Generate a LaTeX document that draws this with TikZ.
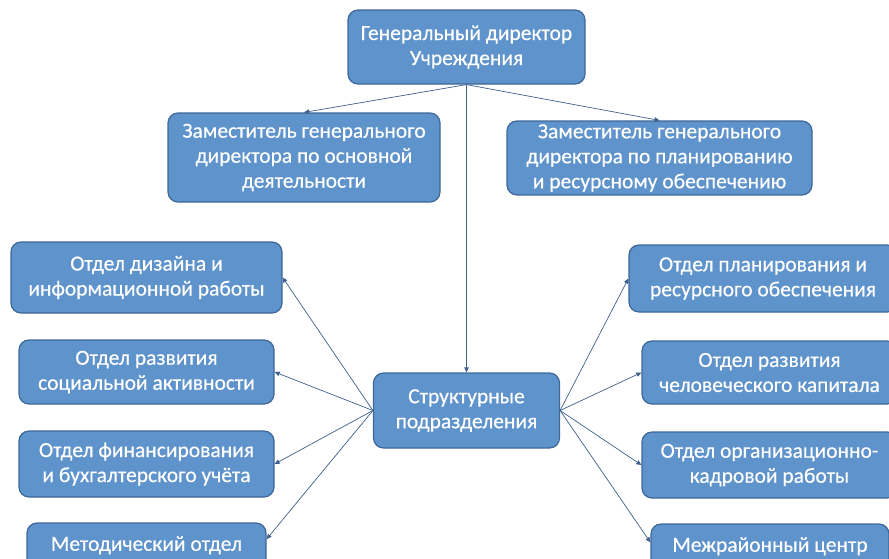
\documentclass[tikz,border=0pt]{standalone}
\usepackage{fontspec}
\setmainfont{Carlito}
\newfontfamily\unitfont{Carlito}[BoldFont=Carlito, BoldFeatures={FakeBold=0.4}]
\usetikzlibrary{arrows.meta}

\definecolor{boxfill}{HTML}{5F93CB}
\definecolor{boxline}{HTML}{3D6798}
\definecolor{linkline}{HTML}{3F5F8C}

\begin{document}
\begin{tikzpicture}[x=1pt, y=-1pt,
	unit/.style={shape=rectangle, rounded corners=10pt, draw=boxline, line width=1.2pt,
		fill=boxfill, text=white, align=center, inner sep=0pt,
		font=\unitfont\bfseries\fontsize{21.5}{25}\selectfont},
	link/.style={-{Triangle[length=5pt,width=4.5pt]}, linkline, line width=0.7pt}]
	\useasboundingbox (0,0) rectangle (889,558);
	\clip (0,0) rectangle (889,558);

	\node[unit, minimum width=237, minimum height=74] (gd)      at (466.5,47)  {Генеральный директор\\Учреждения};
	\node[unit, minimum width=272, minimum height=89] (zam1)    at (304,157.5) {Заместитель генерального\\директора по основной\\деятельности};
	\node[unit, minimum width=305, minimum height=74] (zam2)    at (659.5,158) {Заместитель генерального\\директора по планированию\\и ресурсному обеспечению};
	\node[unit, minimum width=186, minimum height=75] (struct)  at (466.5,410.5) {Структурные\\подразделения};

	\node[unit, minimum width=271, minimum height=71] (dizain)  at (146.5,277.5) {Отдел дизайна и\\информационной работы};
	\node[unit, minimum width=255, minimum height=64] (socakt)  at (146.5,372)   {Отдел развития\\социальной активности};
	\node[unit, minimum width=255, minimum height=66] (finans)  at (146.5,464)   {Отдел финансирования\\и бухгалтерского учёта};
	\node[unit, minimum width=239, minimum height=66] (metod)   at (146.5,556)   {Методический отдел\\\mbox{}};

	\node[unit, minimum width=268, minimum height=67] (planir)  at (763,278.5)   {Отдел планирования и\\ресурсного обеспечения};
	\node[unit, minimum width=255, minimum height=63] (kapital) at (769.5,372.5) {Отдел развития\\человеческого капитала};
	\node[unit, minimum width=255, minimum height=66] (kadry)   at (769.5,465)   {Отдел организационно-\\кадровой работы};
	\node[unit, minimum width=238, minimum height=66] (mezhr)   at (770,557)     {Межрайонный центр\\\mbox{}};

	\path [link] (gd.south)     edge (zam1.north);
	\path [link] (gd.south)     edge (zam2.north);
	\path [link] (gd.south)     edge (struct.north);
	\path [link] (struct.west)  edge (dizain.east);
	\path [link] (struct.west)  edge (socakt.east);
	\path [link] (struct.west)  edge (finans.east);
	\path [link] (struct.west)  edge (metod.8);
	\path [link] (struct.east)  edge (planir.west);
	\path [link] (struct.east)  edge (kapital.west);
	\path [link] (struct.east)  edge (kadry.west);
	\path [link] (struct.east)  edge (mezhr.173);
\end{tikzpicture}
\end{document}
